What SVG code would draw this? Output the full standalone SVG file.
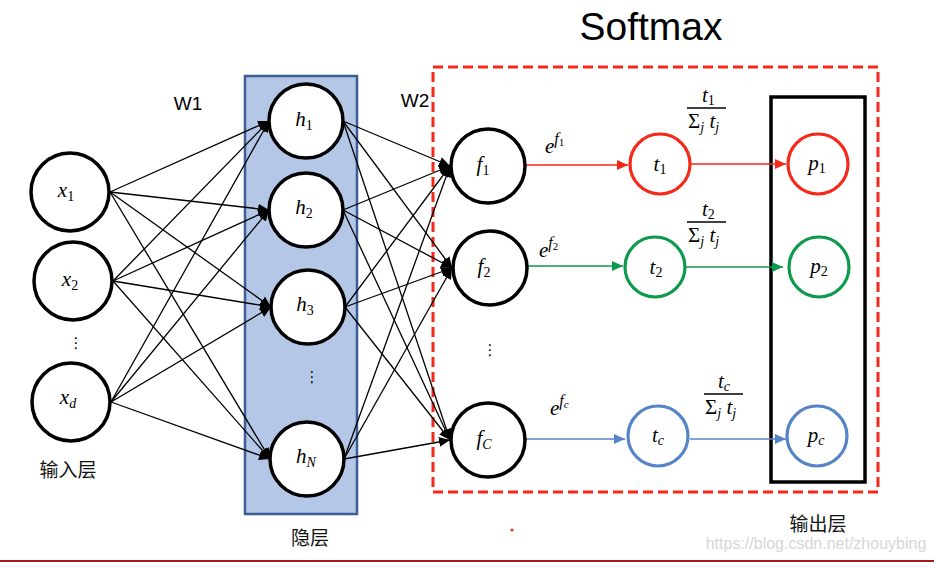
<svg xmlns="http://www.w3.org/2000/svg" width="934" height="562" viewBox="0 0 934 562">
<style>
.bk{fill:#fff;stroke:#000;stroke-width:3.5}
.rd{fill:#fff;stroke:#f5281a;stroke-width:3.2}
.gn{fill:#fff;stroke:#0c9a4c;stroke-width:3.2}
.bl{fill:#fff;stroke:#5584c8;stroke-width:3.2}
.m{font-family:"Liberation Serif","DejaVu Serif",serif;font-style:italic;font-size:21px;fill:#000}
.s{font-size:14px}
.dots{font-family:"DejaVu Sans",sans-serif;font-size:15px;fill:#000}
.lbl{font-family:"Liberation Sans",Arial,sans-serif;fill:#000}
.cjk{font-family:"Liberation Sans","Noto Sans CJK SC",sans-serif;font-size:19px;fill:#111}
.c{stroke:#000;stroke-width:1.3;fill:none;marker-end:url(#ak)}
</style>
<defs>
<marker id="ak" markerUnits="userSpaceOnUse" markerWidth="12" markerHeight="10" refX="11" refY="5" orient="auto"><path d="M0,0 L11,5 L0,10 z" fill="#000"/></marker>
<marker id="ar" markerUnits="userSpaceOnUse" markerWidth="12" markerHeight="10" refX="11" refY="5" orient="auto"><path d="M0,0 L11,5 L0,10 z" fill="#f5281a"/></marker>
<marker id="ag" markerUnits="userSpaceOnUse" markerWidth="12" markerHeight="10" refX="11" refY="5" orient="auto"><path d="M0,0 L11,5 L0,10 z" fill="#0c9a4c"/></marker>
<marker id="ab" markerUnits="userSpaceOnUse" markerWidth="12" markerHeight="10" refX="11" refY="5" orient="auto"><path d="M0,0 L11,5 L0,10 z" fill="#5584c8"/></marker>
</defs>
<rect width="934" height="562" fill="#fff"/>
<line x1="0" y1="561" x2="934" y2="561" stroke="#9b1c1c" stroke-width="2"/>

<g id="hidden-layer-box"><rect x="245" y="76" width="112" height="438" fill="#b4c7e7" stroke="#3b5f95" stroke-width="2.5"/></g>
<g id="softmax-box"><rect x="433" y="67" width="445" height="425" fill="none" stroke="#f5281a" stroke-width="3" stroke-dasharray="10,5"/></g>
<g id="output-layer-box"><rect x="771" y="97" width="94" height="385" fill="none" stroke="#000" stroke-width="3.5"/></g>

<text class="lbl" x="651" y="40" font-size="39" text-anchor="middle">Softmax</text>
<text class="lbl" x="188" y="110" font-size="19" text-anchor="middle">W1</text>
<text class="lbl" x="415" y="107" font-size="19" text-anchor="middle">W2</text>
<text class="cjk" x="68" y="477" text-anchor="middle">输入层</text>
<text class="cjk" x="310" y="545" text-anchor="middle">隐层</text>
<text class="cjk" x="818" y="531" text-anchor="middle">输出层</text>
<text x="816" y="549" font-family="Liberation Sans,sans-serif" font-size="16" fill="#d6d6d6" text-anchor="middle">https://blog.csdn.net/zhouybing</text>
<circle cx="512" cy="530" r="1.5" fill="#f5281a"/>

<g id="connectors">
<line class="c" x1="110" y1="192" x2="269" y2="121"/>
<line class="c" x1="110" y1="192" x2="269" y2="210"/>
<line class="c" x1="110" y1="192" x2="271" y2="307"/>
<line class="c" x1="110" y1="192" x2="270" y2="459"/>
<line class="c" x1="113" y1="281" x2="269" y2="121"/>
<line class="c" x1="113" y1="281" x2="269" y2="210"/>
<line class="c" x1="113" y1="281" x2="271" y2="307"/>
<line class="c" x1="113" y1="281" x2="270" y2="459"/>
<line class="c" x1="111" y1="402" x2="269" y2="121"/>
<line class="c" x1="111" y1="402" x2="269" y2="210"/>
<line class="c" x1="111" y1="402" x2="271" y2="307"/>
<line class="c" x1="111" y1="402" x2="270" y2="459"/>
<line class="c" x1="343" y1="121" x2="450" y2="166"/>
<line class="c" x1="343" y1="121" x2="452" y2="268"/>
<line class="c" x1="343" y1="121" x2="450" y2="440"/>
<line class="c" x1="343" y1="210" x2="450" y2="166"/>
<line class="c" x1="343" y1="210" x2="452" y2="268"/>
<line class="c" x1="343" y1="210" x2="450" y2="440"/>
<line class="c" x1="345" y1="307" x2="450" y2="166"/>
<line class="c" x1="345" y1="307" x2="452" y2="268"/>
<line class="c" x1="345" y1="307" x2="450" y2="440"/>
<line class="c" x1="344" y1="459" x2="450" y2="166"/>
<line class="c" x1="344" y1="459" x2="452" y2="268"/>
<line class="c" x1="344" y1="459" x2="450" y2="440"/>
<line x1="526" y1="165" x2="628" y2="165" stroke="#f5281a" stroke-width="1.6" marker-end="url(#ar)"/>
<line x1="688" y1="164" x2="786" y2="164" stroke="#f5281a" stroke-width="1.6" marker-end="url(#ar)"/>
<line x1="524" y1="266" x2="623" y2="266" stroke="#0c9a4c" stroke-width="1.6" marker-end="url(#ag)"/>
<line x1="682" y1="267" x2="783" y2="267" stroke="#0c9a4c" stroke-width="1.6" marker-end="url(#ag)"/>
<line x1="524" y1="439" x2="625" y2="439" stroke="#5584c8" stroke-width="1.6" marker-end="url(#ab)"/>
<line x1="690" y1="439" x2="786" y2="439" stroke="#5584c8" stroke-width="1.6" marker-end="url(#ab)"/>
</g>

<g id="edge-labels">
<text class="m" x="545" y="153">e<tspan dy="-9" font-size="16">f</tspan><tspan dy="2" font-size="11" font-style="normal">1</tspan></text>
<text class="m" x="539" y="257">e<tspan dy="-9" font-size="16">f</tspan><tspan dy="2" font-size="11" font-style="normal">2</tspan></text>
<text class="m" x="550" y="415">e<tspan dy="-9" font-size="16">f</tspan><tspan dy="2" font-size="11">c</tspan></text>
</g>

<g id="frac-1">
<text class="m" x="702" y="102">t<tspan class="s" dy="3" font-style="normal">1</tspan></text>
<line x1="687" y1="108" x2="726" y2="108" stroke="#000" stroke-width="1.3"/>
<text class="m" x="688" y="128"><tspan font-style="normal">Σ</tspan><tspan class="s" dy="4">j</tspan><tspan dy="-4"> t</tspan><tspan class="s" dy="4">j</tspan></text>
</g>
<g id="frac-2">
<text class="m" x="702" y="216">t<tspan class="s" dy="3" font-style="normal">2</tspan></text>
<line x1="687" y1="222" x2="726" y2="222" stroke="#000" stroke-width="1.3"/>
<text class="m" x="688" y="242"><tspan font-style="normal">Σ</tspan><tspan class="s" dy="4">j</tspan><tspan dy="-4"> t</tspan><tspan class="s" dy="4">j</tspan></text>
</g>
<g id="frac-c">
<text class="m" x="718" y="388">t<tspan class="s" dy="3">c</tspan></text>
<line x1="704" y1="394" x2="743" y2="394" stroke="#000" stroke-width="1.3"/>
<text class="m" x="705" y="414"><tspan font-style="normal">Σ</tspan><tspan class="s" dy="4">j</tspan><tspan dy="-4"> t</tspan><tspan class="s" dy="4">j</tspan></text>
</g>

<g id="x1"><circle class="bk" cx="70" cy="192" r="39"/><text class="m" x="66" y="197" text-anchor="middle">x<tspan class="s" dy="4" font-style="normal">1</tspan></text></g>
<g id="x2"><circle class="bk" cx="73" cy="281" r="39"/><text class="m" x="70" y="286" text-anchor="middle">x<tspan class="s" dy="4" font-style="normal">2</tspan></text></g>
<g id="x-dots"><text class="dots" x="76" y="348" text-anchor="middle">⋮</text></g>
<g id="xd"><circle class="bk" cx="71" cy="402" r="39"/><text class="m" x="68" y="404" text-anchor="middle">x<tspan class="s" dy="4">d</tspan></text></g>

<g id="h1"><circle class="bk" cx="306" cy="121" r="37"/><text class="m" x="304" y="126" text-anchor="middle">h<tspan class="s" dy="4" font-style="normal">1</tspan></text></g>
<g id="h2"><circle class="bk" cx="306" cy="210" r="37"/><text class="m" x="304" y="214" text-anchor="middle">h<tspan class="s" dy="4" font-style="normal">2</tspan></text></g>
<g id="h3"><circle class="bk" cx="308" cy="307" r="37"/><text class="m" x="305" y="311" text-anchor="middle">h<tspan class="s" dy="4" font-style="normal">3</tspan></text></g>
<g id="h-dots"><text class="dots" x="312" y="382" text-anchor="middle">⋮</text></g>
<g id="hN"><circle class="bk" cx="307" cy="459" r="37"/><text class="m" x="306" y="463" text-anchor="middle">h<tspan class="s" dy="4">N</tspan></text></g>

<g id="f1"><circle class="bk" cx="488" cy="166" r="37"/><text class="m" x="483" y="171" text-anchor="middle">f<tspan class="s" dy="4" font-style="normal">1</tspan></text></g>
<g id="f2"><circle class="bk" cx="490" cy="268" r="37"/><text class="m" x="484" y="273" text-anchor="middle">f<tspan class="s" dy="4" font-style="normal">2</tspan></text></g>
<g id="f-dots"><text class="dots" x="490" y="355" text-anchor="middle">⋮</text></g>
<g id="fC"><circle class="bk" cx="488" cy="440" r="37"/><text class="m" x="484" y="445" text-anchor="middle">f<tspan class="s" dy="4">C</tspan></text></g>

<g id="t1"><circle class="rd" cx="660" cy="164" r="30"/><text class="m" x="660" y="171" text-anchor="middle">t<tspan class="s" dy="3" font-style="normal">1</tspan></text></g>
<g id="t2"><circle class="gn" cx="655" cy="267" r="30"/><text class="m" x="656" y="274" text-anchor="middle">t<tspan class="s" dy="3" font-style="normal">2</tspan></text></g>
<g id="tc"><circle class="bl" cx="658" cy="436" r="30"/><text class="m" x="658" y="442" text-anchor="middle">t<tspan class="s" dy="3">c</tspan></text></g>

<g id="p1"><circle class="rd" cx="818" cy="164" r="30"/><text class="m" x="817" y="170" text-anchor="middle">p<tspan class="s" dy="3" font-style="normal">1</tspan></text></g>
<g id="p2"><circle class="gn" cx="819" cy="267" r="30"/><text class="m" x="819" y="273" text-anchor="middle">p<tspan class="s" dy="3" font-style="normal">2</tspan></text></g>
<g id="pc"><circle class="bl" cx="817" cy="436" r="30"/><text class="m" x="816" y="442" text-anchor="middle">p<tspan class="s" dy="3">c</tspan></text></g>
</svg>
